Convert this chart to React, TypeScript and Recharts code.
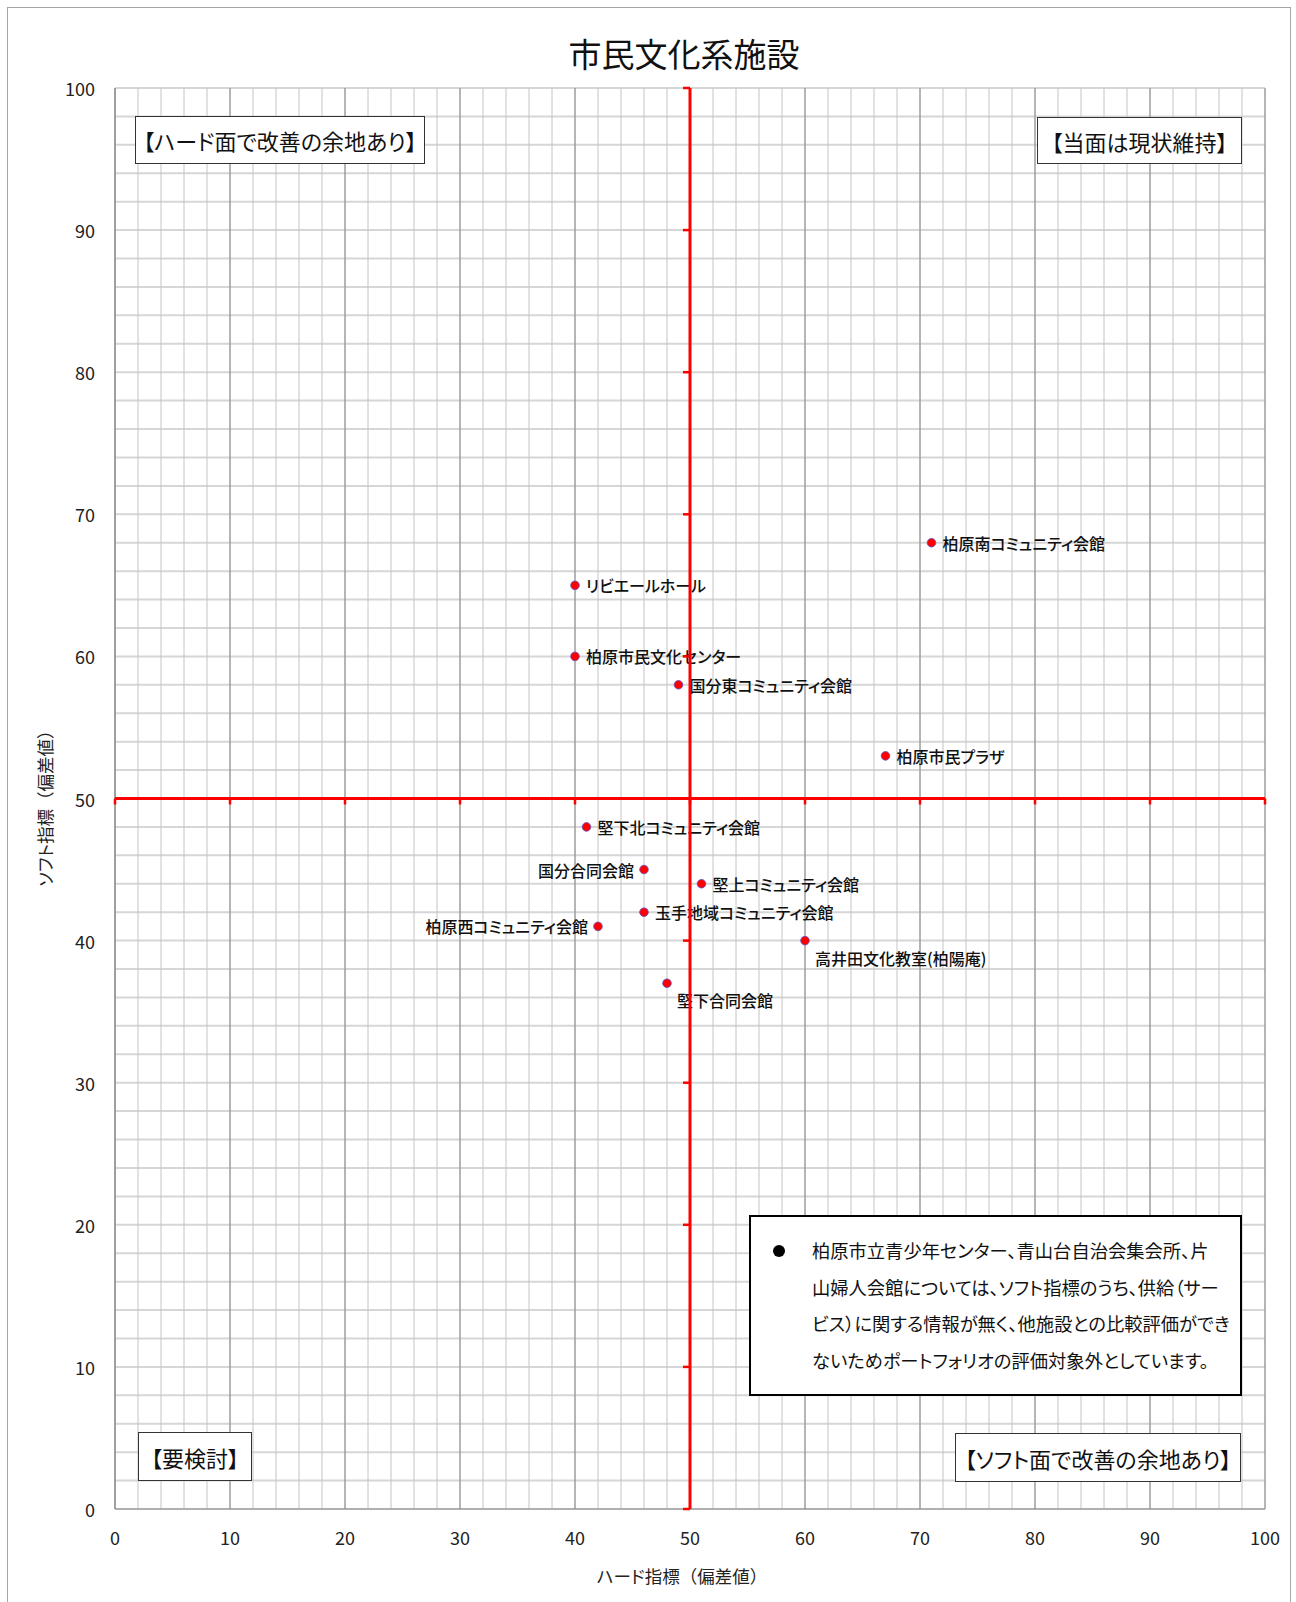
import React from 'react';
import { ScatterChart, Scatter, XAxis, YAxis, CartesianGrid, ReferenceLine, ReferenceDot } from 'recharts';

// ---- data ----
const facilityNames = [
  '柏原南コミュニティ会館',
  'リビエールホール',
  '柏原市民文化センター',
  '国分東コミュニティ会館',
  '柏原市民プラザ',
  '堅下北コミュニティ会館',
  '国分合同会館',
  '堅上コミュニティ会館',
  '玉手地域コミュニティ会館',
  '柏原西コミュニティ会館',
  '高井田文化教室(柏陽庵)',
  '堅下合同会館',
];
const hardIndex = [71, 40, 40, 49, 67, 41, 46, 51, 46, 42, 60, 48];
const softIndex = [68, 65, 60, 58, 53, 48, 45, 44, 42, 41, 40, 37];

const axisTicks = [0, 10, 20, 30, 40, 50, 60, 70, 80, 90, 100];
const minorGrid = [0, 2, 4, 6, 8, 10, 12, 14, 16, 18, 20, 22, 24, 26, 28, 30, 32, 34, 36, 38, 40, 42, 44, 46, 48, 50,
  52, 54, 56, 58, 60, 62, 64, 66, 68, 70, 72, 74, 76, 78, 80, 82, 84, 86, 88, 90, 92, 94, 96, 98, 100];
const crossValue = 50;

const chartTitle = '市民文化系施設';
const xTitle = ['ハード指標', '（偏差値）'];
const yTitle = ['ソフト指標', '（偏差値）'];
const quadrantLabels = ['【ハード面で改善の余地あり】', '【当面は現状維持】', '【要検討】', '【ソフト面で改善の余地あり】'];
const noteLines = [
  '柏原市立青少年センター、青山台自治会集会所、片',
  '山婦人会館については、ソフト指標のうち、供給（サー',
  'ビス）に関する情報が無く、他施設との比較評価ができ',
  'ないためポートフォリオの評価対象外としています。',
];
const labelSide: Record<string, string> = {
  '国分合同会館': 'left',
  '柏原西コミュニティ会館': 'left',
  '高井田文化教室(柏陽庵)': 'below',
  '堅下合同会館': 'below',
};

const data = facilityNames.map((name, i) => ({ name, x: hardIndex[i], y: softIndex[i] }));

const FONT = "'Noto Sans CJK JP', 'Noto Sans', sans-serif";
const PALT = { fontFeatureSettings: '"palt"' } as React.CSSProperties;

const PointShape = (props: any) => {
  const { cx, cy, payload } = props;
  if (cx == null || cy == null) return null;
  const side = labelSide[payload.name] || 'right';
  let tx = cx + 11;
  let ty = cy;
  let anchor: 'start' | 'end' = 'start';
  if (side === 'left') { tx = cx - 10; anchor = 'end'; }
  if (side === 'below') { tx = cx + 10; ty = cy + 17; }
  return (
    <g>
      <text x={tx} y={ty} textAnchor={anchor} dominantBaseline="central" fontSize={16} fontWeight={500}
        fill="#111" style={{ ...PALT, fontFamily: FONT }}>{payload.name}</text>
      <circle cx={cx} cy={cy} r={4.3} fill="#ff0000" stroke="#5a4fc8" strokeWidth={0.8} />
    </g>
  );
};

const XTick = (props: any) => {
  const { x, y, payload } = props;
  return (
    <text x={x} y={y + 28} textAnchor="middle" dominantBaseline="central" fontSize={18} fill="#222" style={{ fontFamily: FONT }}>
      {payload.value}
    </text>
  );
};
const YTick = (props: any) => {
  const { x, y, payload } = props;
  return (
    <text x={x - 20} y={y} textAnchor="end" dominantBaseline="central" fontSize={18} fill="#222" style={{ fontFamily: FONT }}>
      {payload.value}
    </text>
  );
};

const boxStyle = (left: number, top: number, width: number, height: number): React.CSSProperties => ({
  position: 'absolute', left, top, width, height, boxSizing: 'border-box', border: '1.5px solid #333',
  background: '#fff', display: 'flex', alignItems: 'center', justifyContent: 'center',
  fontSize: 22, color: '#111', fontFamily: FONT, whiteSpace: 'nowrap', ...PALT,
});

export default function App() {
  return (
    <div style={{ position: 'absolute', left: 0, top: 0, width: 1296, height: 1602, overflow: 'hidden', background: '#fff', fontFamily: FONT }}>
      <div style={{ position: 'absolute', left: 7, top: 7, width: 1284, height: 1620, border: '1px solid #a6a6a6', boxSizing: 'border-box' }} />
      <div style={{ position: 'absolute', left: 0, top: 0 }}>
        <ScatterChart width={1296} height={1602} margin={{ top: 88, right: 31, bottom: 0, left: 0 }}>
          <CartesianGrid vertical={false} horizontalValues={minorGrid} stroke="#d6d6d6" strokeWidth={2} />
          <CartesianGrid horizontal={false} verticalValues={minorGrid} stroke="#c4c4c4" strokeWidth={1} />
          <CartesianGrid horizontal={false} verticalValues={axisTicks} stroke="#8a8a8a" strokeWidth={1} />
          <XAxis type="number" dataKey="x" domain={[0, 100]} ticks={axisTicks} height={93} tickSize={0} tickMargin={0}
            axisLine={{ stroke: '#8a8a8a', strokeWidth: 1 }} tickLine={false} tick={XTick} interval={0} />
          <YAxis type="number" dataKey="y" domain={[0, 100]} ticks={axisTicks} width={115} tickSize={0} tickMargin={0}
            axisLine={{ stroke: '#8a8a8a', strokeWidth: 1 }} tickLine={false} tick={YTick} interval={0} />
          <Scatter data={data} isAnimationActive={false} shape={PointShape} />
          <ReferenceLine y={crossValue} stroke="#ff0000" strokeWidth={3} zIndex={700} />
          <ReferenceLine x={crossValue} stroke="#ff0000" strokeWidth={3} zIndex={700} />
          {axisTicks.map((t) => (
            <ReferenceDot key={'hx' + t} x={t} y={crossValue} zIndex={700}
              shape={(p: any) => <line x1={p.cx} y1={p.cy} x2={p.cx} y2={p.cy + 6} stroke="#ff0000" strokeWidth={2.5} />} />
          ))}
          {axisTicks.map((t) => (
            <ReferenceDot key={'vy' + t} x={crossValue} y={t} zIndex={700}
              shape={(p: any) => <line x1={p.cx - 7} y1={p.cy} x2={p.cx} y2={p.cy} stroke="#ff0000" strokeWidth={2.5} />} />
          ))}
        </ScatterChart>
      </div>

      {/* title */}
      <div style={{ position: 'absolute', left: 484, width: 400, top: 33, textAlign: 'center', fontSize: 33, color: '#111', lineHeight: '40px' }}>
        {chartTitle}
      </div>
      {/* axis titles */}
      <div style={{ position: 'absolute', left: 482, width: 400, top: 1564, textAlign: 'center', fontSize: 17.5, color: '#222', lineHeight: '24px' }}>
        <span style={PALT}>{xTitle[0]}</span><span>{xTitle[1]}</span>
      </div>
      <div style={{ position: 'absolute', left: 45 - 150, top: 804 - 12, width: 300, height: 24, textAlign: 'center', fontSize: 17.5, color: '#222', lineHeight: '24px', transform: 'rotate(-90deg)' }}>
        <span style={PALT}>{yTitle[0]}</span><span>{yTitle[1]}</span>
      </div>

      {/* quadrant labels */}
      <div style={boxStyle(135, 116, 290, 48)}>{quadrantLabels[0]}</div>
      <div style={boxStyle(1037, 117, 205, 47)}>{quadrantLabels[1]}</div>
      <div style={boxStyle(138, 1432, 114, 49)}>{quadrantLabels[2]}</div>
      <div style={boxStyle(955, 1433, 286, 49)}>{quadrantLabels[3]}</div>

      {/* note */}
      <div style={{ position: 'absolute', left: 749, top: 1215, width: 493, height: 181, boxSizing: 'border-box', border: '2px solid #000', background: '#fff' }}>
        <div style={{ position: 'absolute', left: 22, top: 28, width: 12, height: 12, borderRadius: 6, background: '#000' }} />
        {noteLines.map((line, i) => (
          <div key={i} style={{ position: 'absolute', left: 61, top: 33 + i * 36.5 - 14, height: 28, lineHeight: '28px', fontSize: 18.3, color: '#111', whiteSpace: 'nowrap', ...PALT }}>
            {line}
          </div>
        ))}
      </div>
    </div>
  );
}
